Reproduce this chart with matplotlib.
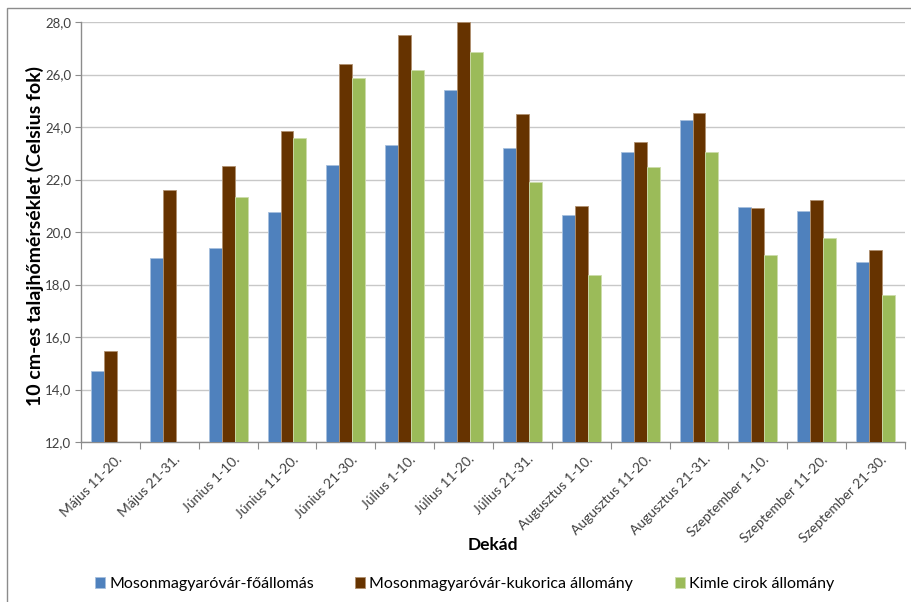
import matplotlib
matplotlib.use("Agg")
import matplotlib.pyplot as plt
import matplotlib.transforms as mtransforms
import numpy as np
from matplotlib.patches import Rectangle

plt.rcParams['font.family'] = ['Lato', 'DejaVu Sans']

categories = ["Május 11-20.", "Május 21-31.", "Június 1-10.", "Június 11-20.",
              "Június 21-30.", "Július 1-10.", "Július 11-20.", "Július 21-31.",
              "Augusztus 1-10.", "Augusztus 11-20.", "Augusztus 21-31.",
              "Szeptember 1-10.", "Szeptember 11-20.", "Szeptember 21-30."]

foallomas = [14.7, 19.0, 19.4, 20.76, 22.57, 23.31, 25.41, 23.21, 20.66, 23.06,
             24.25, 20.96, 20.8, 18.86]
kukorica = [15.47, 21.6, 22.5, 23.86, 26.39, 27.5, 28.0, 24.51, 20.98, 23.43,
            24.53, 20.91, 21.22, 19.3]
cirok = [np.nan, np.nan, 21.35, 23.57, 25.87, 26.16, 26.84, 21.92, 18.36, 22.48,
         23.06, 19.12, 19.76, 17.61]

series_names = ["Mosonmagyaróvár-főállomás", "Mosonmagyaróvár-kukorica állomány",
                "Kimle cirok állomány"]
colors = ["#4F81BD", "#663300", "#9BBB59"]
edges = ["#A7C0DE", "#B09070", "#CDDDAC"]

W, H = 911, 602
fig = plt.figure(figsize=(W / 100, H / 100), dpi=100)
fig.patches.append(Rectangle((7 / W, -0.05), 1.1, 1 - 8 / H + 0.05,
                             transform=fig.transFigure, fill=False,
                             edgecolor="#8C8C8C", linewidth=1.0))

ax = fig.add_axes([81 / W, 1 - 442 / H, (905 - 81) / W, (442 - 22) / H])

x = np.arange(len(categories))
bw = 0.22
for i, (vals, name) in enumerate(zip([foallomas, kukorica, cirok], series_names)):
    v = np.array(vals, dtype=float)
    ax.bar(x + (i - 1) * bw, v - 12, bw, bottom=12, color=colors[i],
           edgecolor=edges[i], linewidth=0.6, label=name, zorder=3)

ax.set_ylim(12, 28)
ax.set_xlim(-0.5, len(categories) - 0.5)
yt = np.arange(12, 28.1, 2)
ax.set_yticks(yt)
ax.set_yticklabels([f"{t:.1f}".replace(".", ",") for t in yt])
ax.yaxis.grid(True, color="#C8C8C8", linewidth=1.0, zorder=0)
ax.set_axisbelow(True)

for s in ["top", "right"]:
    ax.spines[s].set_visible(False)
for s in ["left", "bottom"]:
    ax.spines[s].set_color("#8C8C8C")
    ax.spines[s].set_linewidth(1.0)

ax.tick_params(axis="y", length=4, color="#8C8C8C", labelsize=9.5,
               labelcolor="#404040", pad=3)
# category boundaries carry the tick marks; labels sit at category centres
ax.set_xticks(np.arange(-0.5, len(categories), 1.0))
ax.set_xticklabels([])
ax.tick_params(axis="x", length=5, color="#8C8C8C")
ax.set_xticks(x, minor=True)
ax.set_xticklabels(categories, minor=True, rotation=45, ha="right",
                   rotation_mode="anchor", fontsize=10, color="#404040")
ax.tick_params(axis="x", which="minor", length=0, pad=8)
shift = mtransforms.ScaledTranslation(5 / 100, 0, fig.dpi_scale_trans)
for lbl in ax.get_xticklabels(minor=True):
    lbl.set_transform(lbl.get_transform() + shift)

fig.text(35 / W, 1 - 236 / H, "10 cm-es talajhőmérséklet (Celsius fok)",
         rotation=90, ha="center", va="center", fontsize=14, fontweight="bold")
fig.text(493 / W, 1 - 545 / H, "Dekád", ha="center", va="center",
         fontsize=12.5, fontweight="bold")

leg = fig.legend(loc="center left", bbox_to_anchor=(95 / W, 1 - 584 / H), ncol=3,
                 frameon=False, fontsize=11.5, handlelength=0.63, handleheight=0.63,
                 handletextpad=0.25, columnspacing=2.6, borderpad=0,
                 borderaxespad=0)

fig.savefig("out.png", dpi=100)
